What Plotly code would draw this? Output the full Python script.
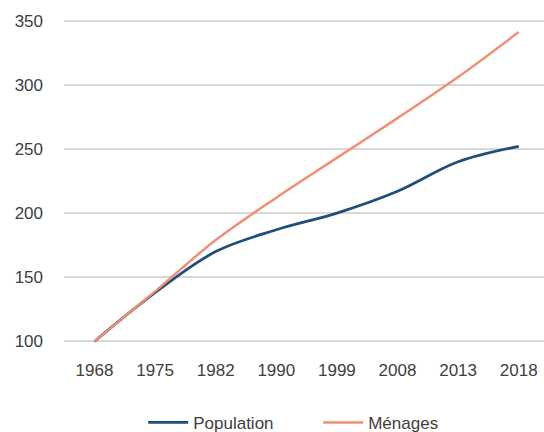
import plotly.graph_objects as go

years = ["1968", "1975", "1982", "1990", "1999", "2008", "2013", "2018"]
population = [100, 138, 170, 187, 200, 217, 240, 252]
menages = [100, 139, 179, 212, 243, 274, 306, 341]
y_ticks = [100, 150, 200, 250, 300, 350]

FONT = "Liberation Sans, Arial, sans-serif"
TXT = "#404040"

fig = go.Figure()
fig.add_trace(go.Scatter(x=years, y=population, name="Population", mode="lines",
                         line=dict(color="#1F4E79", width=2.75, shape="spline", smoothing=1.0)))
fig.add_trace(go.Scatter(x=years, y=menages, name="Ménages", mode="lines",
                         line=dict(color="#F08F74", width=2.5, shape="spline", smoothing=1.0)))

fig.update_layout(
    width=544, height=432,
    margin=dict(l=64, r=0, t=18, b=88, autoexpand=False),
    paper_bgcolor="white", plot_bgcolor="white",
    font=dict(family=FONT, size=17, color=TXT),
    showlegend=True,
    legend=dict(orientation="h", x=0.165, xanchor="left", y=-0.242, yanchor="middle",
                font=dict(family=FONT, size=17, color=TXT), itemwidth=40,
                entrywidth=120, entrywidthmode="pixels",
                tracegroupgap=0, bgcolor="rgba(0,0,0,0)"),
)
fig.update_xaxes(type="category", range=[-0.503, 7.417], showgrid=False, zeroline=False,
                 showline=False, ticks="", ticklabelstandoff=14, automargin=False,
                 tickfont=dict(family=FONT, size=17, color=TXT))
fig.update_yaxes(range=[98, 352], tickvals=y_ticks, showgrid=True, gridcolor="#D9D9D9",
                 gridwidth=1.5, zeroline=False, showline=False, ticks="", automargin=False,
                 ticklabelstandoff=20, tickfont=dict(family=FONT, size=17, color=TXT))

fig.write_html("out.html", config={"displayModeBar": False},
               post_script="document.body.style.margin='0px';document.body.style.overflow='hidden';")
